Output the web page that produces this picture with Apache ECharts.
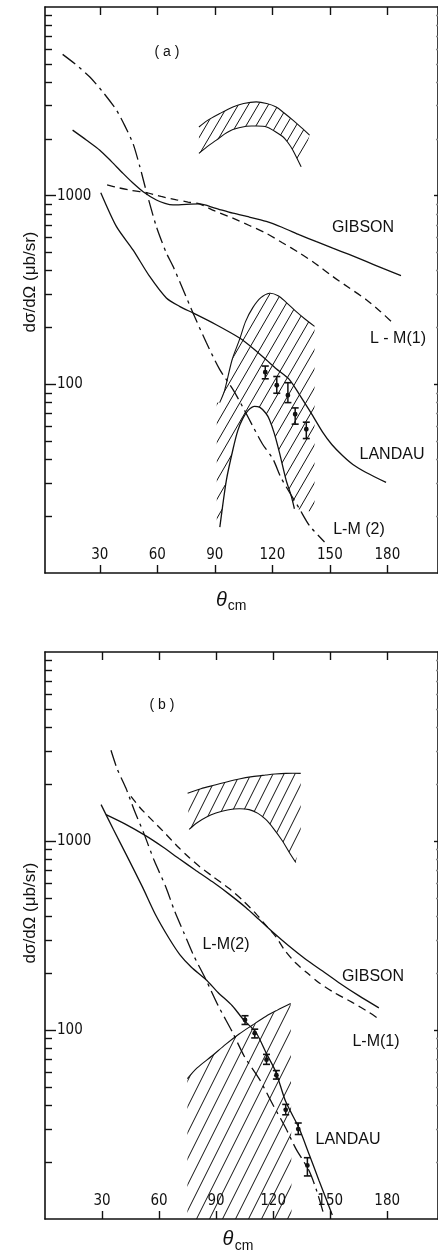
<!DOCTYPE html>
<html><head><meta charset="utf-8">
<script src="https://cdn.jsdelivr.net/npm/echarts@6/dist/echarts.min.js"></script>
<style>html,body{margin:0;padding:0;background:#fff}#c{width:438px;height:1253px}</style>
</head><body><div id="c"></div>
<script>
// ---------- tick values ----------
const X_TICKS = [30, 60, 90, 120, 150, 180];
const Y_MAJOR = [100, 1000];
const Y_MINOR = [20,30,40,50,60,70,80,90,200,300,400,500,600,700,800,900,2000,3000,4000,5000,6000,7000,8000,9000];

// ---------- panel (a) ----------
const A_GIBSON = [[15.8,2225],[23.1,1968],[30,1742],[36,1520],[42.1,1313],[47,1175],[52.6,1050],[59.5,949],[64,910],[68.2,893],[75.2,900],[82,904],[90,860],[99.4,807],[108,770],[116.8,730],[125,680],[134.2,620],[143,570],[151.5,527],[160,488],[168.9,448],[178,410],[187.1,377]];
const A_LM1 = [[33.8,1140],[40,1100],[47,1065],[54.3,1037],[62,990],[70,950],[76,925],[81.9,904],[90,830],[99.4,760],[108,695],[116.8,632],[125,565],[134.2,497],[142,440],[151.5,373],[160,325],[169,281],[176,245],[181.9,216]];
const A_LM2 = [[10.6,5610],[17,5000],[24.8,4256],[32,3500],[38.7,2838],[43,2350],[47.3,1892],[50.9,1422],[54.3,1050],[59.5,685],[64.7,497],[68.2,422],[73.4,318],[78.6,239],[85.6,166],[92.5,120],[99.4,94],[104.5,76],[109.8,60],[115,48],[120.3,40.2],[124.5,32],[128.9,26.8],[134,22],[139.4,17.8],[147.2,14.6]];
const A_LANDAU = [[30.5,1037],[38.7,685],[47.3,516],[56,373],[64.7,287],[71.6,259],[78.6,239],[90.7,207],[102.9,176],[110,155],[116.8,135],[122,121],[128.9,106],[134.2,88],[140,71],[146.3,55.6],[151,48],[156.7,41.8],[162,37.6],[168.9,34.1],[179.3,30.2]];
const A_HUMP = [[92.6,17.5],[96,31],[99.4,45],[102,57],[104.6,66],[107.5,73],[110.7,76.5],[113.5,75.5],[116.5,70.5],[118.5,65],[121,55],[123.7,43.5],[127.2,31],[129.8,25.7],[131.5,21.9]];
const A_BIG_ENV = [[92.5,80],[95.1,93],[99,135],[102.9,173],[106,215],[109.8,255],[114,288],[118.5,304],[123,295],[127.2,272],[132,245],[137,222],[142,203]];
const A_BIG_LEFT = [[91,17],[91,80]];
const A_BIG_RIGHT = [[142,203],[142,21]];
const A_TOP_UP = [[81.7,2313],[86,2500],[92.5,2723],[99.4,2953],[105,3080],[111.6,3140],[117,3080],[122,2953],[126,2750],[130.7,2512],[135,2300],[139.4,2094]];
const A_TOP_LO = [[81.7,1675],[86,1820],[90.8,1969],[95,2120],[99.4,2244],[106.4,2333],[111,2340],[117,2313],[121,2200],[125.5,2052],[128,1920],[130.7,1742],[135,1422]];
// [theta, value, low, high]
const A_DATA = [[116.3,116,107,125],[122.3,98.9,89.7,110],[128.1,87.5,80,102],[131.9,69.4,61.5,75],[137.7,57.8,51.6,63]];

// ---------- panel (b) ----------
const B_GIBSON = [[32.1,1379],[42,1232],[53.1,1065],[62,930],[70.6,805],[79,703],[88.1,608],[97,522],[105.6,445],[112.5,385],[119.6,331],[128,280],[137.1,237],[146,205],[154.6,178],[165,152],[175.6,131]];
const B_LM1 = [[45.2,1722],[50,1500],[55,1330],[62,1130],[70,930],[75.8,818],[81.1,735],[88,652],[96.9,560],[104,485],[110.9,413],[116,360],[121.4,312],[126,265],[131.9,226],[138,200],[144.1,178],[152,158],[161.6,140],[170.4,124],[174.7,116]];
const B_LM2 = [[34.7,3020],[38,2400],[42.6,1900],[47,1450],[52.2,1084],[57.5,785],[63.6,570],[68,430],[73.2,324],[78,250],[84.6,185],[91,135],[98.6,97.3],[105,72],[112.6,55.3],[120,40],[126.6,30.3],[132,23.5],[138.9,18],[143,14],[146.7,10.5]];
const B_LANDAU = [[29.5,1557],[36,1150],[42.6,852],[51.3,570],[58,410],[65.3,305],[71,250],[77,215],[84.6,185],[91,158],[98.6,134],[104.5,113],[110.9,97.3],[116.5,75],[121.4,60],[126.6,41.8],[133.6,30.3],[138.9,22],[144.1,16],[151.1,10.5]];
const B_TOP_UP = [[75,1791],[82,1890],[89.9,1983],[96,2060],[102.1,2130],[109,2190],[116.1,2233],[121,2260],[126.6,2279],[134.5,2280]];
const B_TOP_LO = [[75.8,1151],[80,1250],[85,1340],[89.9,1406],[96,1460],[102.1,1482],[107.4,1465],[112,1400],[116.1,1300],[120,1170],[124.9,1000],[128.5,870],[131.9,770]];
const B_TOP_RIGHT = [[134.5,2280],[134.5,1040],[131.9,770]];
const B_BIG_UP = [[74.9,55.3],[80,63],[88.1,73.3],[95,84],[102.1,95.3],[109,106],[116.1,118],[122,127],[129.2,138]];
const B_FLOOR = 10;
const B_DATA = [[105.2,113,107,119],[110.3,96.2,90.8,101],[116.5,69.7,65.8,74.3],[121.7,57.7,55,61],[126.6,37.8,35.6,40.4],[133.2,29.9,28,32.2],[138,19.2,16.9,21.1]];

// ---------- helpers ----------
const INK = '#111';
function hatch(s, deg) {
  const h = Math.round(s * Math.tan(deg * Math.PI / 180));
  const c = document.createElement('canvas'); c.width = s; c.height = h;
  const g = c.getContext('2d'); g.strokeStyle = INK; g.lineWidth = 1;
  for (const off of [-s, 0, s]) { g.beginPath(); g.moveTo(off, h); g.lineTo(off + s, 0); g.stroke(); }
  return { image: c, repeat: 'repeat' };
}
function bandSeries(xi, yi, poly, strokes, pattern) {
  return {
    type: 'custom', xAxisIndex: xi, yAxisIndex: yi, silent: true, z: 1,
    data: [[poly[0][0], poly[0][1]]],
    renderItem: (params, api) => {
      const children = [{ type: 'polygon', shape: { points: poly.map(p => api.coord(p)) }, style: { fill: pattern, stroke: null } }];
      strokes.forEach(s => children.push({ type: 'polyline', shape: { points: s.map(p => api.coord(p)), smooth: 0.3 }, style: { stroke: INK, lineWidth: 1.1, fill: null } }));
      return { type: 'group', children };
    }
  };
}
function errSeries(xi, yi, pts) {
  return {
    type: 'custom', xAxisIndex: xi, yAxisIndex: yi, silent: true, z: 5,
    data: pts, encode: { x: 0, y: 1 },
    renderItem: (params, api) => {
      const x = api.value(0);
      const c = api.coord([x, api.value(1)]);
      const a = api.coord([x, api.value(2)]);
      const b = api.coord([x, api.value(3)]);
      const w = 3.5;
      return { type: 'group', children: [
        { type: 'line', shape: { x1: a[0], y1: a[1], x2: b[0], y2: b[1] }, style: { stroke: INK, lineWidth: 1.5 } },
        { type: 'line', shape: { x1: a[0] - w, y1: a[1], x2: a[0] + w, y2: a[1] }, style: { stroke: INK, lineWidth: 1.6 } },
        { type: 'line', shape: { x1: b[0] - w, y1: b[1], x2: b[0] + w, y2: b[1] }, style: { stroke: INK, lineWidth: 1.6 } },
        { type: 'circle', shape: { cx: c[0], cy: c[1], r: 2.4 }, style: { fill: INK } }
      ] };
    }
  };
}
function line(xi, yi, data, type) {
  return { type: 'line', xAxisIndex: xi, yAxisIndex: yi, data, smooth: 0.25, symbol: 'none', silent: true, z: 3,
    lineStyle: { color: INK, width: 1.3, type: type || 'solid' } };
}
const NARROW = '"Liberation Sans Narrow","DejaVu Sans Condensed",sans-serif';
function xAx(grid, pos, min, max, labels) {
  return { type: 'value', gridIndex: grid, position: pos, min, max,
    axisLine: { onZero: false, lineStyle: { color: INK, width: 1.6 } },
    axisTick: { inside: true, length: 8, customValues: X_TICKS, lineStyle: { color: INK, width: 1.4 } },
    axisLabel: { show: labels, inside: true, margin: 10, customValues: X_TICKS, color: INK, fontFamily: NARROW, fontSize: 15 },
    splitLine: { show: false } };
}
function yAx(grid, pos, vals, len, showLine, labels, color) {
  return { type: 'log', logBase: 10, gridIndex: grid, position: pos, min: 10, max: 10000,
    axisLine: { show: showLine, onZero: false, lineStyle: { color: INK, width: 1.6 } },
    axisTick: { show: true, inside: true, length: len, customValues: vals, lineStyle: { color: color || INK, width: 1.4 } },
    axisLabel: { show: labels, inside: true, margin: 12, customValues: vals, color: INK, fontFamily: NARROW, fontSize: 15,
      formatter: v => String(Math.round(v)) },
    splitLine: { show: false }, minorTick: { show: false } };
}

const option = {
  backgroundColor: '#fff',
  animation: false,
  grid: [
    { left: 45, top: 7, width: 394, height: 566 },
    { left: 45, top: 652, width: 394, height: 567 }
  ],
  xAxis: [
    xAx(0, 'bottom', 1.4, 206.4, true), xAx(0, 'top', 1.4, 206.4, false),
    xAx(1, 'bottom', 0, 206.7, true), xAx(1, 'top', 0, 206.7, false)
  ],
  yAxis: [
    yAx(0, 'left', Y_MAJOR, 11, true, true), yAx(0, 'left', Y_MINOR, 7, false, false),
    yAx(0, 'right', Y_MAJOR, 4, true, false), yAx(0, 'right', Y_MINOR, 2, false, false, '#888'),
    yAx(1, 'left', Y_MAJOR, 11, true, true), yAx(1, 'left', Y_MINOR, 7, false, false),
    yAx(1, 'right', Y_MAJOR, 4, true, false), yAx(1, 'right', Y_MINOR, 2, false, false, '#888')
  ],
  series: [
    // panel (a)
    bandSeries(0, 0, A_TOP_UP.concat(A_TOP_LO.slice().reverse()), [A_TOP_UP, A_TOP_LO], hatch(10, 60)),
    bandSeries(0, 0, A_BIG_LEFT.concat(A_BIG_ENV, A_BIG_RIGHT, A_HUMP.slice().reverse()), [A_BIG_ENV], hatch(11, 60)),
    line(0, 0, A_HUMP),
    line(0, 0, A_GIBSON),
    line(0, 0, A_LANDAU),
    line(0, 0, A_LM1, [8, 5]),
    line(0, 0, A_LM2, [16, 5, 3, 5]),
    errSeries(0, 0, A_DATA),
    // panel (b)
    bandSeries(2, 4, B_TOP_UP.concat(B_TOP_RIGHT.slice(1), B_TOP_LO.slice().reverse()), [B_TOP_UP, B_TOP_LO], hatch(11, 63)),
    bandSeries(2, 4, [[B_BIG_UP[0][0], B_FLOOR]].concat(B_BIG_UP, [[B_BIG_UP[B_BIG_UP.length - 1][0] + 0.5, B_FLOOR]]), [B_BIG_UP], hatch(13, 63)),
    line(2, 4, B_GIBSON),
    line(2, 4, B_LANDAU),
    line(2, 4, B_LM1, [8, 5]),
    line(2, 4, B_LM2, [16, 5, 3, 5]),
    errSeries(2, 4, B_DATA)
  ],
  graphic: (function () {
    const F = '"Liberation Sans",Arial,sans-serif';
    const t = (x, y, text, size, extra) => Object.assign({ type: 'text', x, y, z: 100,
      style: { text, fill: INK, fontSize: size, fontFamily: F, align: 'center', verticalAlign: 'middle' } }, extra || {});
    return [
      t(167, 52, '( a )', 14), t(162, 705, '( b )', 14),
      t(363, 228, 'GIBSON', 16), t(398, 339, 'L - M(1)', 16), t(392, 455, 'LANDAU', 16), t(359, 530, 'L-M (2)', 16),
      t(226, 945, 'L-M(2)', 16), t(373, 977, 'GIBSON', 16), t(376, 1042, 'L-M(1)', 16), t(348, 1140, 'LANDAU', 16),
      t(30, 282, 'dσ/dΩ (μb/sr)', 17, { rotation: Math.PI / 2 }),
      t(30, 913, 'dσ/dΩ (μb/sr)', 17, { rotation: Math.PI / 2 }),
      { type: 'text', x: 221.5, y: 600, z: 100, style: { text: 'θ', fill: INK, fontSize: 20, fontStyle: 'italic', fontFamily: F, align: 'center', verticalAlign: 'middle' } },
      t(237, 606, 'cm', 14),
      { type: 'text', x: 228, y: 1239, z: 100, style: { text: 'θ', fill: INK, fontSize: 20, fontStyle: 'italic', fontFamily: F, align: 'center', verticalAlign: 'middle' } },
      t(244, 1246, 'cm', 14)
    ];
  })()
};
const chart = echarts.init(document.getElementById('c'));
chart.setOption(option);
</script>
</body></html>
